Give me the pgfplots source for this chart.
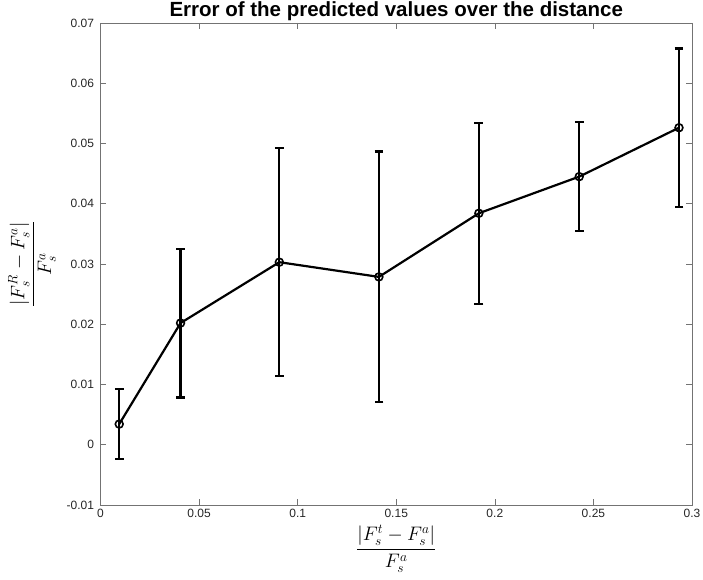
\documentclass[border=0pt]{standalone}
\usepackage{pgfplots}
\usepackage{pgfplotstable}
\pgfplotsset{compat=1.18}
\usepackage{fontspec}
\setmainfont{Liberation Sans}

\definecolor{axgray}{gray}{0.45}
\definecolor{ticktext}{gray}{0.15}

% mean relative error of the prediction and its spread, per distance bin
\pgfplotstableread{
x       y        e
0.0095  0.00343  0.00580
0.0406  0.02020  0.01235
0.0907  0.03030  0.01890
0.1412  0.02786  0.02080
0.1919  0.03842  0.01500
0.2428  0.04450  0.00905
0.2934  0.05262  0.01315
}\errtable

\begin{document}
\begin{tikzpicture}
\begin{axis}[
  scale only axis,
  width=591.5pt, height=482pt,
  xmin=0, xmax=0.3, ymin=-0.01, ymax=0.07,
  xtick={0,0.05,0.1,0.15,0.2,0.25,0.3},
  xticklabels={0,0.05,0.1,0.15,0.2,0.25,0.3},
  ytick={-0.01,0,0.01,0.02,0.03,0.04,0.05,0.06,0.07},
  yticklabels={-0.01,0,0.01,0.02,0.03,0.04,0.05,0.06,0.07},
  scaled x ticks=false, scaled y ticks=false,
  tick align=inside,
  major tick length=6pt,
  tick style={axgray, line width=0.6pt},
  axis line style={axgray, line width=0.6pt},
  ticklabel style={font=\fontsize{12}{14}\selectfont, text=ticktext},
  xticklabel style={yshift=-1pt},
  yticklabel style={xshift=-3pt},
  title={Error of the predicted values over the distance},
  title style={font=\bfseries\fontsize{20.5}{24}\selectfont, at={(0.5,1)}, anchor=base, yshift=0pt},
  xlabel={$\displaystyle\frac{|F_s^t-F_s^a|}{F_s^a}$},
  ylabel={$\displaystyle\frac{|F_s^R-F_s^a|}{F_s^a}$},
  label style={font=\fontsize{17.28}{20}\selectfont, scale=1.13},
  xlabel style={yshift=0pt},
  ylabel style={yshift=3pt},
]
\addplot[black, line width=2.2pt, mark=o, mark size=3.9pt,
  mark options={line width=1.6pt, fill=none},
  error bars/.cd, y dir=both, y explicit,
  error bar style={line width=2.2pt},
  error mark options={rotate=90, line width=2.2pt, mark size=4.4pt}]
  table[x=x, y=y, y error=e] {\errtable};
\end{axis}
\pgfresetboundingbox
\path (current axis.south west) ++(-100.5pt,-75pt) rectangle ++(703pt,580pt);
\end{tikzpicture}
\end{document}
